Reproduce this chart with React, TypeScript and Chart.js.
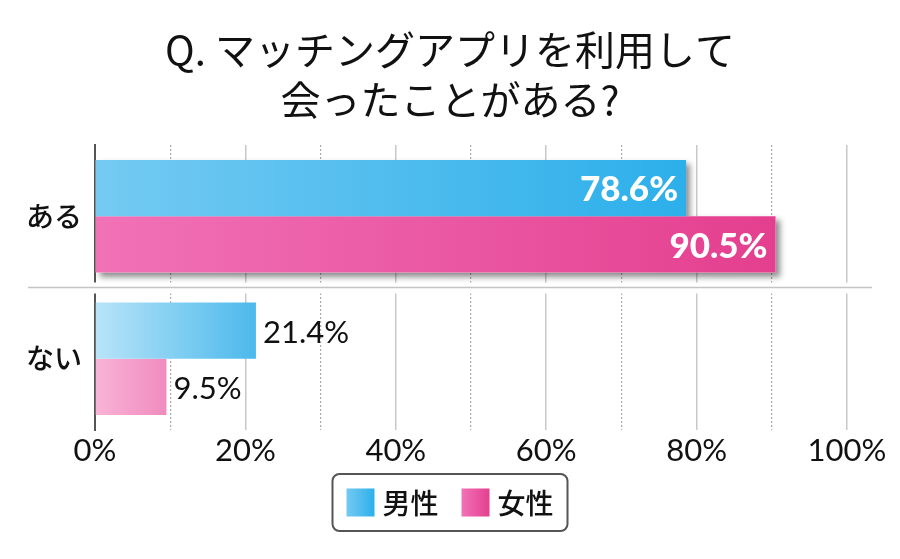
import React, { useEffect, useRef } from "react";
import { Chart, registerables } from "chart.js";

Chart.register(...registerables);

const titleLines = ["Q. マッチングアプリを利用して", "会ったことがある?"];
const categories = ["ある", "ない"];
const seriesNames = ["男性", "女性"];
const maleValues = [78.6, 21.4];
const femaleValues = [90.5, 9.5];
const xTickValues = [0, 20, 40, 60, 80, 100];

const JP = "'Noto Sans CJK JP', 'Noto Sans', sans-serif";
const NUM = "Lato, 'Noto Sans', sans-serif";

// gradient stops per series: [strong category, weak category]
const gradStops: Record<number, string[][]> = {
  0: [
    ["#74caf2", "#2cafea"],
    ["#b8e4f8", "#4cb9ec"],
  ],
  1: [
    ["#f172b7", "#e43f8f"],
    ["#f8b4d7", "#f08bbe"],
  ],
};
const legendStops = [
  ["#74caf2", "#2cafea"],
  ["#f172b7", "#e43f8f"],
];

function barColor(c: any) {
  const chart = c.chart;
  const area = chart.chartArea;
  const ds = c.datasetIndex;
  const idx = c.dataIndex ?? 0;
  const stops = gradStops[ds][idx] || gradStops[ds][0];
  if (!area || !chart.scales.x) return stops[1];
  const end = chart.scales.x.getPixelForValue(c.raw as number);
  const g = chart.ctx.createLinearGradient(area.left, 0, Math.max(end, area.left + 1), 0);
  g.addColorStop(0, stops[0]);
  g.addColorStop(1, stops[1]);
  return g;
}

const decorPlugin = {
  id: "decor",
  beforeDatasetsDraw(chart: any) {
    const ctx = chart.ctx;
    const y = chart.scales.y;
    const sepY = (y.getPixelForValue(0) + y.getPixelForValue(1)) / 2;
    ctx.save();
    ctx.fillStyle = "#ffffff";
    ctx.fillRect(0, sepY - 5, chart.width, 11);
    ctx.strokeStyle = "#c4c4c4";
    ctx.lineWidth = 1.5;
    ctx.beginPath();
    ctx.moveTo(28, sepY);
    ctx.lineTo(chart.chartArea.right + 25, sepY);
    ctx.stroke();
    ctx.restore();

    // drop shadows for the first category bars
    chart.data.datasets.forEach((_d: any, di: number) => {
      const meta = chart.getDatasetMeta(di);
      const el: any = meta.data[0];
      if (!el) return;
      const { x, y: cy, base, height } = el.getProps(["x", "y", "base", "height"], true);
      ctx.save();
      ctx.shadowColor = "rgba(0,0,0,0.45)";
      ctx.shadowBlur = 6;
      ctx.shadowOffsetX = 4;
      ctx.shadowOffsetY = 4;
      ctx.fillStyle = "#ffffff";
      ctx.fillRect(base, cy - height / 2, x - base, height);
      ctx.restore();
    });
  },
  afterDatasetsDraw(chart: any) {
    const ctx = chart.ctx;
    chart.data.datasets.forEach((d: any, di: number) => {
      const meta = chart.getDatasetMeta(di);
      meta.data.forEach((el: any, i: number) => {
        const v = d.data[i] as number;
        const txt = v.toFixed(1) + "%";
        ctx.save();
        ctx.textBaseline = "middle";
        if (i === 0) {
          ctx.font = `900 35px ${NUM}`;
          ctx.fillStyle = "#ffffff";
          ctx.textAlign = "right";
          ctx.fillText(txt, el.x - 8, el.y + 2);
        } else {
          ctx.font = `400 31px ${NUM}`;
          ctx.fillStyle = "#111111";
          ctx.textAlign = "left";
          ctx.fillText(txt, el.x + 7, el.y + 2);
        }
        ctx.restore();
      });
    });
  },
  afterDraw(chart: any) {
    const ctx = chart.ctx;
    ctx.save();
    ctx.font = `500 28px ${JP}`;
    const sq = 28;
    const gap = 8;
    const itemGap = 23;
    const padX = 14;
    const widths = seriesNames.map((s) => ctx.measureText(s).width);
    const total = padX * 2 + widths.reduce((a, w) => a + sq + gap + w, 0) + itemGap;
    const left = chart.width / 2 - total / 2;
    const top = 474;
    const h = 57;
    const r = 7;
    ctx.strokeStyle = "#555555";
    ctx.lineWidth = 2;
    ctx.beginPath();
    ctx.moveTo(left + r, top);
    ctx.arcTo(left + total, top, left + total, top + h, r);
    ctx.arcTo(left + total, top + h, left, top + h, r);
    ctx.arcTo(left, top + h, left, top, r);
    ctx.arcTo(left, top, left + total, top, r);
    ctx.closePath();
    ctx.stroke();
    let x = left + padX;
    const cy = top + h / 2;
    seriesNames.forEach((s, i) => {
      const g = ctx.createLinearGradient(x, 0, x + sq, 0);
      g.addColorStop(0, legendStops[i][0]);
      g.addColorStop(1, legendStops[i][1]);
      ctx.fillStyle = g;
      ctx.fillRect(x, cy - sq / 2, sq, sq);
      x += sq + gap;
      ctx.fillStyle = "#111111";
      ctx.textAlign = "left";
      ctx.textBaseline = "middle";
      ctx.fillText(s, x, cy + 1);
      x += widths[i] + itemGap;
    });
    ctx.restore();
  },
};

export default function App() {
  const ref = useRef<HTMLCanvasElement | null>(null);
  useEffect(() => {
    if (!ref.current) return;
    const chart = new Chart(ref.current, {
      type: "bar",
      data: {
        labels: categories,
        datasets: [
          { label: seriesNames[0], data: maleValues, backgroundColor: barColor as any, borderWidth: 0 },
          { label: seriesNames[1], data: femaleValues, backgroundColor: barColor as any, borderWidth: 0 },
        ],
      },
      options: {
        indexAxis: "y",
        responsive: false,
        animation: false,
        layout: { padding: { top: 25, left: 0, right: 0, bottom: 89 } },
        datasets: { bar: { categoryPercentage: 0.79, barPercentage: 1.0 } },
        plugins: {
          legend: { display: false },
          tooltip: { enabled: false },
          title: {
            display: true,
            text: titleLines,
            color: "#111111",
            font: { family: JP, size: 40, weight: "400", lineHeight: 1.25 },
            padding: { top: 0, bottom: 20 },
          },
        },
        scales: {
          x: {
            min: 0,
            max: 100,
            afterBuildTicks(scale: any) {
              const t = [];
              for (let v = 0; v <= 100; v += 10) t.push({ value: v });
              scale.ticks = t;
            },
            afterFit(scale: any) {
              scale.height = 40;
            },
            ticks: {
              autoSkip: false,
              maxRotation: 0,
              padding: 2,
              color: "#111111",
              font: { family: NUM, size: 31, weight: "400" },
              callback: (v: any) => (xTickValues.includes(Number(v)) ? v + "%" : ""),
            },
            grid: {
              drawTicks: false,
              color: (c: any) => (c.tick && c.tick.value === 0 ? "rgba(0,0,0,0)" : c.tick && c.tick.value % 20 === 0 ? "#c8c8c8" : "#aaaaaa"),
              lineWidth: (c: any) => (c.tick && c.tick.value % 20 === 0 ? 1.5 : 1.2),
            },
            border: {
              display: false,
              dash: (c: any) => (c.tick && c.tick.value % 20 !== 0 ? [2, 2] : []),
            } as any,
          },
          y: {
            afterFit(scale: any) {
              scale.width = 95;
            },
            ticks: {
              padding: 13,
              color: "#111111",
              font: { family: JP, size: 28, weight: "500" },
            },
            grid: { display: false, drawTicks: false },
            border: { display: true, color: "#555555", width: 2 },
          },
          yRight: {
            type: "category",
            position: "right",
            labels: categories,
            afterFit(scale: any) {
              scale.width = 53;
            },
            ticks: { display: false },
            grid: { display: false, drawTicks: false },
            border: { display: false },
          },
        },
      },
      plugins: [decorPlugin],
    });
    return () => chart.destroy();
  }, []);
  return (
    <div style={{ position: "absolute", left: 0, top: 0, width: 900, height: 559, background: "#ffffff" }}>
      <canvas ref={ref} width={900} height={559} />
    </div>
  );
}
